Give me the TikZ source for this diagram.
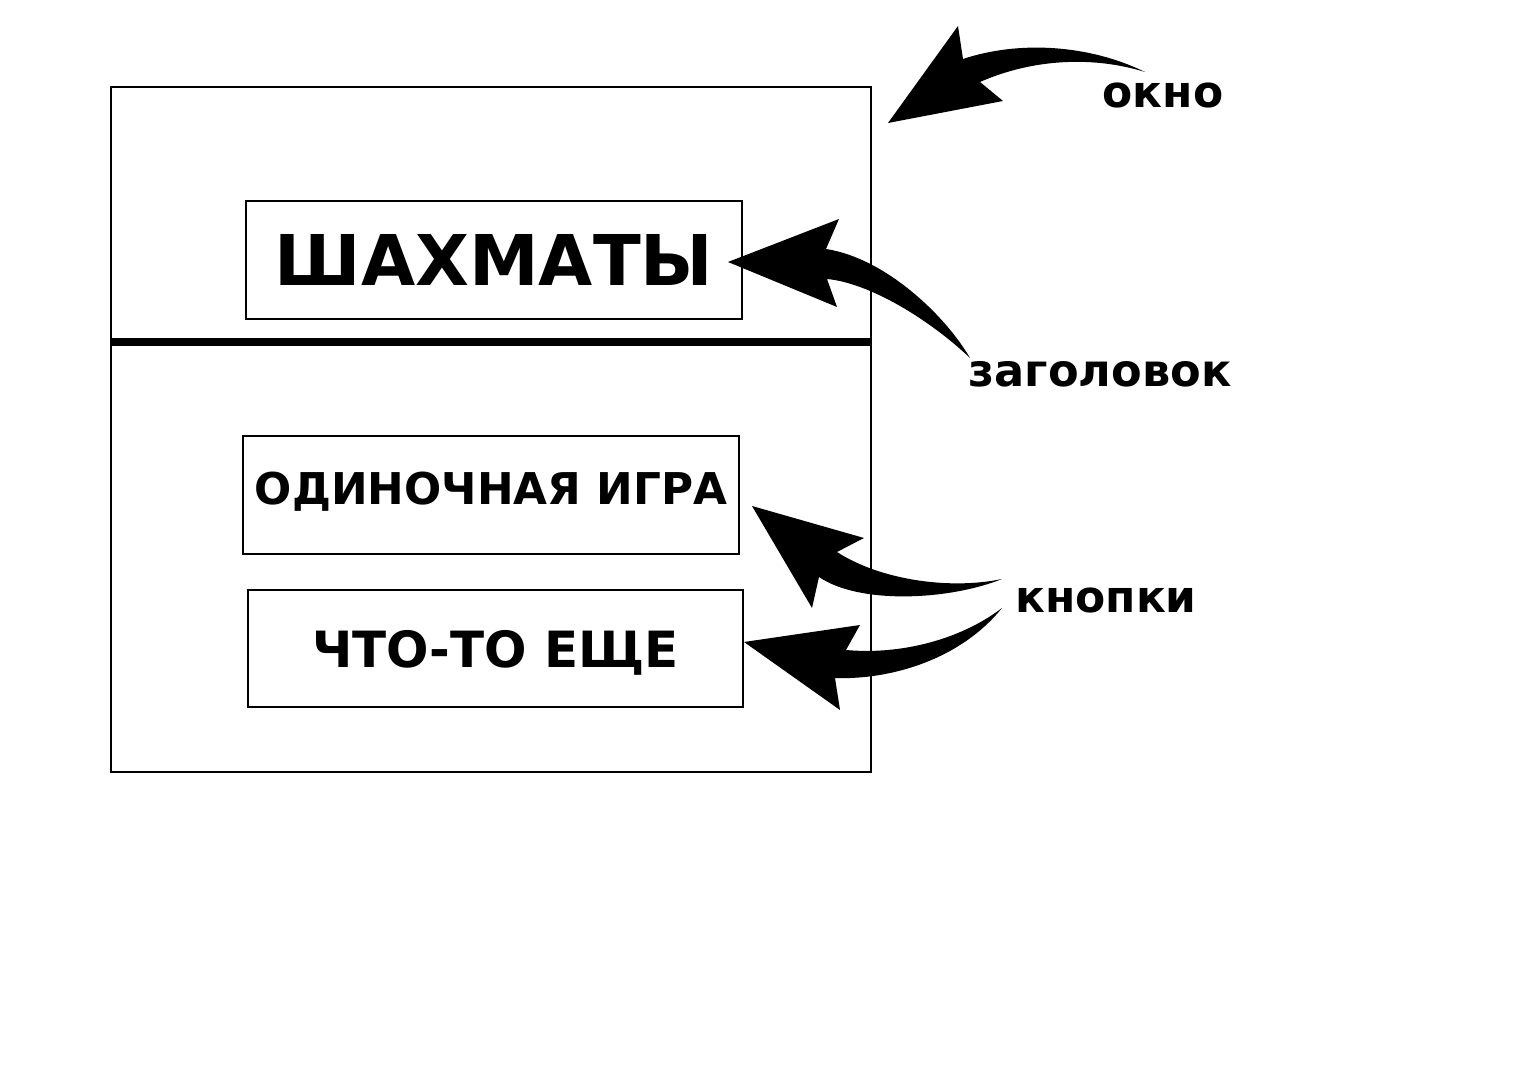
\documentclass[tikz,border=0pt]{standalone}
\usepackage{fontspec}
\setmainfont{DejaVu Sans}
\usepackage{tikz}
\usetikzlibrary{calc}

\begin{document}
\begin{tikzpicture}[x=0.01cm, y=-0.01cm,
    box/.style={draw, line width=0.6pt, inner sep=0pt, font=\bfseries},
    lbl/.style={anchor=base, inner sep=0pt, font=\bfseries\fontsize{12.5}{14}\selectfont}]
  \useasboundingbox (0,0) rectangle (1527,1080);
  \node[box, minimum width=7.6cm, minimum height=6.85cm] (window) at (491,429.5) {};
  \draw[line width=2.4pt] (window.west |- 0,342) -- (window.east |- 0,342);
  \node[box, minimum width=4.96cm, minimum height=1.18cm, text height=0.51cm, text depth=0.01cm,
    font=\bfseries\fontsize{19.9}{22}\selectfont] (title) at (494,260) {ШАХМАТЫ};
  \node[box, minimum width=4.96cm, minimum height=1.18cm, text height=0.32cm, text depth=0.12cm,
    font=\bfseries\fontsize{12.45}{15}\selectfont] (single) at (491,495) {ОДИНОЧНАЯ ИГРА};
  \node[box, minimum width=4.95cm, minimum height=1.17cm, text height=0.37cm, text depth=0cm,
    font=\bfseries\fontsize{14.2}{16}\selectfont] (other) at (495.5,648.5) {ЧТО-ТО ЕЩЕ};
  \node[lbl] (okno) at (1163,108) {окно};
  \node[lbl, font=\bfseries\fontsize{12.7}{14}\selectfont] (header) at (1100,387) {заголовок};
  \node[lbl] (buttons) at (1106,613) {кнопки};
  \fill (1145,72) .. controls (1090,45) and (1020,40) .. (963,59) -- (958,26) -- (888,123)
     -- (1003,101) -- (980,82) .. controls (1030,60) and (1090,55) .. (1145,72) -- cycle;
  \fill (970,358) .. controls (945,315) and (885,258) .. (826,249) -- (839,219) -- (728,262)
     -- (837,307) -- (827,279) .. controls (870,283) and (930,320) .. (970,358) -- cycle;
  \fill (1002,579) .. controls (950,590) and (880,580) .. (837,552) -- (864,538) -- (752,506)
     -- (812,608) -- (819,577) .. controls (860,605) and (950,600) .. (1002,579) -- cycle;
  \fill (1002,608) .. controls (960,640) and (900,655) .. (846,650) -- (860,625) -- (744,642)
     -- (840,710) -- (835,678) .. controls (890,680) and (960,660) .. (1002,608) -- cycle;
\end{tikzpicture}
\end{document}
